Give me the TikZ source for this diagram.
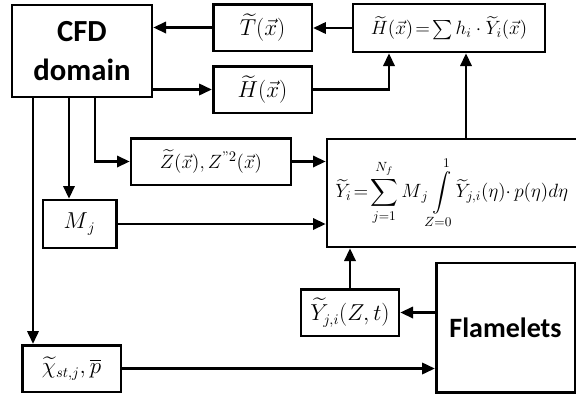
\documentclass[tikz,border=0pt]{standalone}
\usepackage{amsmath}
\usepackage{fontspec}
\newfontfamily\calibri{Carlito}
\usetikzlibrary{arrows.meta, calc, positioning}

\begin{document}
\begin{tikzpicture}[x=0.75pt, y=-0.75pt, >={Triangle[length=9.5pt,width=8.5pt]},
  bloc/.style={draw, line width=2pt, inner sep=0pt, font=\fontsize{16}{19}\selectfont},
  gros/.style={bloc, font=\calibri\bfseries\fontsize{23}{29}\selectfont, align=center},
  fleche/.style={->, line width=1.7pt}]
  \useasboundingbox (0,0) rectangle (576,394);
  % blocs
  \node[gros, minimum width=105pt, minimum height=69pt] (cfd) at (82,51) {CFD\\domain};
  \node[bloc, minimum width=74pt, minimum height=35pt] (tx) at (262.5,27.5) {$\widetilde{T}(\vec{x})$};
  \node[bloc, minimum width=144pt, minimum height=36pt, font=\fontsize{14.5}{17}\selectfont] (hsum) at (449,28)
    {$\widetilde{H}(\vec{x})\!=\!\sum h_i\cdot\widetilde{Y}_i(\vec{x})$};
  \node[bloc, minimum width=74pt, minimum height=35pt] (hx) at (262.5,89.5) {$\widetilde{H}(\vec{x})$};
  \node[bloc, minimum width=120pt, minimum height=35pt, font=\fontsize{15}{18}\selectfont] (zvar) at (211,161.5) {$\widetilde{Z}(\vec{x}), Z^{\text{"}2}(\vec{x})$};
  \node[bloc, minimum width=193.5pt, minimum height=81pt, inner xsep=6pt, text width=181pt, align=left,
    font=\fontsize{14.5}{17}\selectfont] (ybig) at (456,193)
    {$\displaystyle \widetilde{Y}_i\!=\!\sum_{j=1}^{N_f} M_{\,j}\!\int\limits_{Z=0}^{1}\!\widetilde{Y}_{j,i}(\eta){\cdot}\,p(\eta)d\eta$};
  \node[bloc, minimum width=55pt, minimum height=36pt] (mj) at (79.5,224) {$M_{\,j}$};
  \node[bloc, minimum width=74pt, minimum height=35pt] (chi) at (71.5,368.5) {$\widetilde{\chi}_{st,j}, \overline{p}$};
  \node[bloc, minimum width=73.5pt, minimum height=35pt] (yji) at (350,312.5) {$\widetilde{Y}_{j,i}(Z,t)$};
  \node[gros, font=\calibri\bfseries\fontsize{21}{25}\selectfont, minimum width=104pt, minimum height=97pt] (flam) at (505.5,327.5) {Flamelets};
  % fleches
  \draw[fleche] (tx.west) -- (tx.west -| cfd.east);
  \draw[fleche] (hsum.west) -- (hsum.west -| tx.east);
  \draw[fleche] (cfd.east |- hx) -- (hx.west);
  \draw[fleche] (hx.east) -| (hsum.south -| 389,0);
  \draw[fleche] (ybig.north -| 466,0) -- (hsum.south -| 466,0);
  \draw[fleche] (cfd.south -| 95,0) |- (zvar.west);
  \draw[fleche] (zvar.east) -- (zvar.east -| ybig.west);
  \draw[fleche] (cfd.south -| 69,0) -- (mj.north -| 69,0);
  \draw[fleche] (mj.east) -- (mj.east -| ybig.west);
  \draw[fleche] (cfd.south -| 33,0) -- (chi.north -| 33,0);
  \draw[fleche] (chi.east) -- (chi.east -| flam.west);
  \draw[fleche] (flam.west |- yji) -- (yji.east);
  \draw[fleche] (yji.north) -- (yji.north |- ybig.south);
\end{tikzpicture}
\end{document}
